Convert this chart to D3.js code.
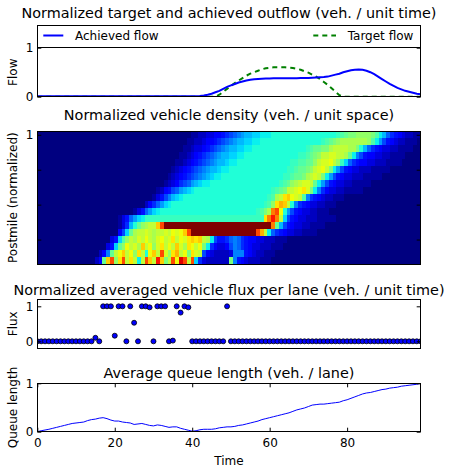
<!DOCTYPE html>
<html><head><meta charset="utf-8">
<script src="https://cdn.jsdelivr.net/npm/d3@7"></script>
<style>
html,body{margin:0;padding:0;background:#fff;}
svg{display:block;font-family:"DejaVu Sans",sans-serif;}
</style></head><body>
<svg id="chart" width="451" height="474"></svg>
<script>
// ---------------- DATA ----------------
const titles = [
  "Normalized target and achieved outflow (veh. / unit time)",
  "Normalized vehicle density (veh. / unit space)",
  "Normalized averaged vehicle flux per lane (veh. / unit time)",
  "Average queue length (veh. / lane)"
];
const legendLabels = ["Achieved flow", "Target flow"];
const xTickValues = [0, 20, 40, 60, 80];

const achievedFlow = [
  0.01,0.01,0.01,0.01,0.01,0.01,0.01,0.01,0.01,0.01,
  0.01,0.01,0.01,0.01,0.01,0.01,0.01,0.01,0.01,0.01,
  0.01,0.01,0.01,0.01,0.01,0.01,0.01,0.01,0.01,0.01,
  0.01,0.01,0.01,0.01,0.01,0.01,0.01,0.01,0.01,0.01,
  0.01,0.01,0.015,0.025,0.04,0.06,0.09,0.12,0.16,0.2,
  0.23,0.26,0.29,0.31,0.33,0.345,0.355,0.36,0.365,0.37,
  0.372,0.374,0.375,0.376,0.377,0.378,0.378,0.379,0.38,0.38,
  0.381,0.385,0.39,0.395,0.4,0.41,0.43,0.45,0.47,0.5,
  0.52,0.54,0.55,0.555,0.55,0.53,0.5,0.46,0.41,0.36,
  0.31,0.26,0.22,0.18,0.15,0.12,0.1,0.08,0.06,0.05
];
const targetFlow = [
  0,0,0,0,0,0,0,0,0,0,
  0,0,0,0,0,0,0,0,0,0,
  0,0,0,0,0,0,0,0,0,0,
  0,0,0,0,0,0,0,0,0,0,
  0,0,0,0,0,0,0,0.04,0.1,0.16,
  0.22,0.28,0.33,0.38,0.43,0.47,0.5,0.53,0.56,0.58,
  0.59,0.6,0.6,0.6,0.6,0.59,0.585,0.57,0.55,0.52,
  0.49,0.45,0.41,0.36,0.3,0.24,0.17,0.1,0.03,0,
  0,0,0,0,0,0,0,0,0,0,
  0,0,0,0,0,0,0,0,0,0
];
const fluxValues = [
  0,0,0,0,0,0,0,0,0,0,
  0,0,0,0,0,0.1,0,1,1,1,
  0.16,1,1,0,1,0.53,0,1,1,0.97,
  0,1,1,1,0,0.02,1,0.82,1,0.97,
  0,0,0,0,0,0,0,0,0,1,
  0,0,0,0,0,0,0,0,0,0,
  0,0,0,0,0,0,0,0,0,0,
  0,0,0,0,0,0,0,0,0,0,
  0,0,0,0,0,0,0,0,0,0,
  0,0,0,0,0,0,0,0,0,0
];
const queueLength = [
  0.00,0.02,0.035,0.05,0.07,0.09,0.11,0.13,0.15,0.17,
  0.18,0.19,0.2,0.23,0.25,0.26,0.28,0.29,0.27,0.24,
  0.22,0.22,0.2,0.19,0.18,0.15,0.16,0.17,0.15,0.13,
  0.12,0.14,0.13,0.11,0.09,0.1,0.1,0.07,0.05,0.03,
  0.01,0.02,0.04,0.05,0.05,0.05,0.06,0.08,0.09,0.1,
  0.1,0.11,0.13,0.14,0.16,0.18,0.2,0.22,0.25,0.27,
  0.29,0.31,0.33,0.35,0.37,0.39,0.42,0.45,0.47,0.49,
  0.52,0.55,0.56,0.57,0.57,0.58,0.59,0.6,0.61,0.64,
  0.66,0.69,0.72,0.75,0.78,0.8,0.81,0.83,0.85,0.87,
  0.88,0.9,0.91,0.92,0.94,0.95,0.96,0.97,0.98,1.0
];
// density grid: 19 rows (top = postmile 1) x 100 time steps,
// each char is a level in densityLevels ('0' = 0 ... 'z' = 1)
const densityLevels = "0123456789abcdefghijklmnopqrstuvwxyz";
const densityRows = [
  "0000000000 0000000000 0000000000 0000000000 1122334456 789abbccdd deeeeeeeee eeeeeeeefg hiijjjjigd b865432211",
  "0000000000 0000000000 0000000000 0000000001 1223445678 9abbccddee eeeeeeeeee eeeefghijk kkkkkkjgda 7543221110",
  "0000000000 0000000000 0000000000 0000000011 233456789a bbccddeeee eeeeeeeeee fghhiiklll lkkieb8654 3322111100",
  "0000000000 0000000000 0000000000 0000000112 3456789abb ccddeeeeee eeeeeeeeff ghijllmmll khd9754433 2211110000",
  "0000000000 0000000000 0000000000 0000001123 456789abbc ddeeeeeeee eeeeeeffgg hhjlmmnljf c865443322 2111100000",
  "0000000000 0000000000 0000000000 0000012345 6789abbcdd eeeeeeeeee eeeeeffghh ijlmnlida7 5433222111 1100000000",
  "0000000000 0000000000 0000000000 0000123456 789abcddee eeeeeeeeee eeeeffghhi klmlida754 3322211111 0000000000",
  "0000000000 0000000000 0000000000 0001234678 abcddeeeee eeeeeeeeee eeefghjklm mlhda75433 2211111000 0000000000",
  "0000000000 0000000000 0000000000 0124578abc deeeeeeeee eeeeeeeeee efghillmno mid9643322 1111100000 0000000000",
  "0000000000 0000000000 0000000000 13579bcdee eeeeeeeeee eeeeeeeeee fgklopnmlg 9654322111 0000000000 0000000000",
  "0000000000 0000000000 0000000024 68acdeeeee eeeeeeeeee eeeeeeeeef gjoqple965 4332211100 0000000000 0000000000",
  "0000000000 0000000000 000001358a cdeeeeeeee eeeeeeeeee eeeeeeefgi ksunea7543 3221110000 0000000000 0000000000",
  "0000000000 0000000000 01358acdff ffffffffff ffffffffff fffffffffo swslc75433 2221111100 0000000000 0000000000",
  "0000000000 0000000000 0136behjkl lpuzzzzzzz zzzzzzzzzz zzzzzzzzzz zshb754332 2111100000 0000000000 0000000000",
  "0000000000 0000000000 047chkllml kllmlnmnpu zzzzzzzzzz zzzzzzzuql d865433221 1110000000 0000000000 0000000000",
  "0000000000 0000000003 5cgjlkmlnl kmnlmolnmo poplkd7556 8986544332 2211100000 0000000000 0000000000 0000000000",
  "0000000000 0000000035 chjnlmkpln jmolnlpmko nlnid64334 7986543322 2111000000 0000000000 0000000000 0000000000",
  "0000000000 000000249h lnplnjolen plumjoqlni oml7432222 3999543221 1100000000 0000000000 0000000000 0000000000",
  "0000000000 0000024hpu jouloldlup lwpilunxul uc63222222 i954322211 1000000000 0000000000 0000000000 0000000000"
];

// ---------------- CHART ----------------
const svg = d3.select("#chart");
svg.append("rect").attr("width", 451).attr("height", 474).attr("fill", "#fff");
const X0 = 37.3, X1 = 420.7, XC = (X0 + X1) / 2;
const FONT = "DejaVu Sans";
const steps = d3.range(achievedFlow.length);
const x = d3.scaleLinear().domain([0, 99]).range([X0, X1]);

const panels = {
  flow:  {top: 47.7,  bottom: 96.7,  title: 17.8},
  dens:  {top: 131.3, bottom: 264.0, title: 120.3},
  flux:  {top: 299.3, bottom: 348.3, title: 294.5},
  queue: {top: 383.3, bottom: 431.7, title: 377.8}
};

function frame(p) {
  svg.append("rect").attr("x", X0).attr("y", p.top)
    .attr("width", X1 - X0).attr("height", p.bottom - p.top)
    .attr("fill", "none").attr("stroke", "#000").attr("stroke-width", 1)
    .attr("shape-rendering", "crispEdges");
}
function title(p, text) {
  svg.append("text").attr("x", XC).attr("y", p.title).attr("text-anchor", "middle")
    .attr("font-size", 14.4).attr("font-family", FONT).attr("fill", "#000").text(text);
}
function ylabel(p, text) {
  const cy = (p.top + p.bottom) / 2;
  svg.append("text").attr("transform", `translate(16.5,${cy}) rotate(-90)`)
    .attr("text-anchor", "middle").attr("font-size", 12).attr("font-family", FONT)
    .attr("fill", "#000").text(text);
}
function yTicks(scale, values, fmt) {
  svg.append("g").attr("transform", `translate(${X0},0)`)
    .call(d3.axisLeft(scale).tickValues(values).tickFormat(fmt).tickSizeInner(-4).tickSizeOuter(0).tickPadding(4))
    .call(g => g.select(".domain").remove())
    .attr("font-size", 12).attr("font-family", FONT);
  svg.append("g").attr("transform", `translate(${X1},0)`)
    .call(d3.axisRight(scale).tickValues(values).tickFormat("").tickSizeInner(-4).tickSizeOuter(0))
    .call(g => g.select(".domain").remove());
}
function clip(id, p) {
  svg.append("clipPath").attr("id", id).append("rect")
    .attr("x", X0).attr("y", p.top).attr("width", X1 - X0).attr("height", p.bottom - p.top);
}

// jet colormap (matplotlib segment data)
const jetR = d3.scaleLinear().domain([0, 0.35, 0.66, 0.89, 1]).range([0, 0, 1, 1, 0.5]).clamp(true);
const jetG = d3.scaleLinear().domain([0, 0.125, 0.375, 0.64, 0.91, 1]).range([0, 0, 1, 1, 0, 0]).clamp(true);
const jetB = d3.scaleLinear().domain([0, 0.11, 0.34, 0.65, 1]).range([0.5, 1, 1, 0, 0]).clamp(true);
const jet = v => d3.rgb(255 * jetR(v), 255 * jetG(v), 255 * jetB(v)).formatHex();
const levelValue = ch => ch === "z" ? 1 : densityLevels.indexOf(ch) / 36;

// ---- Panel 1: flows ----
{
  const p = panels.flow;
  const y = d3.scaleLinear().domain([0, 1]).range([p.bottom, p.top]);
  clip("clipFlow", p);
  const line = d3.line().x((d, i) => x(steps[i])).y(d => y(d));
  const g = svg.append("g").attr("clip-path", "url(#clipFlow)");
  g.append("path").datum(targetFlow).attr("d", line).attr("fill", "none")
    .attr("stroke", "#008000").attr("stroke-width", 2).attr("stroke-dasharray", "5,4");
  g.append("path").datum(achievedFlow).attr("d", line).attr("fill", "none")
    .attr("stroke", "#0000ff").attr("stroke-width", 2);
  frame(p);
  yTicks(y, [0, 1], d3.format("d"));
  ylabel(p, "Flow");
  const lg = svg.append("g");
  lg.append("rect").attr("x", X0).attr("y", 25.7).attr("width", X1 - X0).attr("height", p.top - 25.7)
    .attr("fill", "#fff").attr("stroke", "#000").attr("stroke-width", 1).attr("shape-rendering", "crispEdges");
  lg.append("line").attr("x1", 43.3).attr("x2", 63.3).attr("y1", 35.5).attr("y2", 35.5)
    .attr("stroke", "#0000ff").attr("stroke-width", 2);
  lg.append("text").attr("x", 75).attr("y", 39.8).attr("font-size", 12).attr("font-family", FONT).text(legendLabels[0]);
  lg.append("line").attr("x1", 313.3).attr("x2", 336).attr("y1", 35.5).attr("y2", 35.5)
    .attr("stroke", "#008000").attr("stroke-width", 2).attr("stroke-dasharray", "5,4");
  lg.append("text").attr("x", 347.7).attr("y", 39.8).attr("font-size", 12).attr("font-family", FONT).text(legendLabels[1]);
  title({title: p.title}, titles[0]);
}

// ---- Panel 2: density heatmap ----
{
  const p = panels.dens;
  const grid = densityRows.map(s => s.replace(/ /g, "").split("").map(levelValue));
  const nRows = grid.length, nCols = grid[0].length;
  const cx = d3.scaleBand().domain(d3.range(nCols)).range([X0, X1]);
  const cy = d3.scaleBand().domain(d3.range(nRows)).range([p.top, p.bottom]);
  const cells = [];
  grid.forEach((row, r) => row.forEach((v, c) => cells.push({r, c, v})));
  svg.append("g").attr("shape-rendering", "crispEdges").selectAll("rect").data(cells).join("rect")
    .attr("x", d => cx(d.c)).attr("y", d => cy(d.r))
    .attr("width", cx.bandwidth() + 0.6).attr("height", cy.bandwidth() + 0.6)
    .attr("fill", d => jet(d.v));
  frame(p);
  const yRow = d3.scaleLinear().domain([-0.5, nRows - 0.5]).range([p.top, p.bottom]);
  yTicks(yRow, [0, 5, 10, 15], d => d === 0 ? "1" : "");
  ylabel(p, "Postmile (normalized)");
  title(p, titles[1]);
}

// ---- Panel 3: flux scatter ----
{
  const p = panels.flux;
  const y = d3.scaleLinear().domain([-0.2, 1.2]).range([p.bottom, p.top]);
  clip("clipFlux", p);
  svg.append("g").attr("clip-path", "url(#clipFlux)").selectAll("circle").data(fluxValues).join("circle")
    .attr("cx", (d, i) => x(steps[i])).attr("cy", d => y(d)).attr("r", 2.5)
    .attr("fill", "#0000ff").attr("stroke", "#000").attr("stroke-width", 0.8);
  frame(p);
  yTicks(y, [0, 1], d3.format("d"));
  ylabel(p, "Flux");
  title(p, titles[2]);
}

// ---- Panel 4: queue length ----
{
  const p = panels.queue;
  const y = d3.scaleLinear().domain([0, 1]).range([p.bottom, p.top]);
  clip("clipQueue", p);
  const line = d3.line().x((d, i) => x(steps[i])).y(d => y(d));
  svg.append("path").datum(queueLength).attr("clip-path", "url(#clipQueue)").attr("d", line)
    .attr("fill", "none").attr("stroke", "#0000ff").attr("stroke-width", 1);
  frame(p);
  yTicks(y, [0, 1], d3.format("d"));
  svg.append("g").attr("transform", `translate(0,${p.bottom})`)
    .call(d3.axisBottom(x).tickValues(xTickValues).tickFormat(d3.format("d")).tickSizeInner(-4).tickSizeOuter(0).tickPadding(6.5))
    .call(g => g.select(".domain").remove())
    .attr("font-size", 12).attr("font-family", FONT);
  svg.append("g").attr("transform", `translate(0,${p.top})`)
    .call(d3.axisTop(x).tickValues(xTickValues).tickFormat("").tickSizeInner(-4).tickSizeOuter(0))
    .call(g => g.select(".domain").remove());
  ylabel(p, "Queue length");
  svg.append("text").attr("x", XC).attr("y", 465).attr("text-anchor", "middle")
    .attr("font-size", 12).attr("font-family", FONT).text("Time");
  title(p, titles[3]);
}
</script>
</body></html>
